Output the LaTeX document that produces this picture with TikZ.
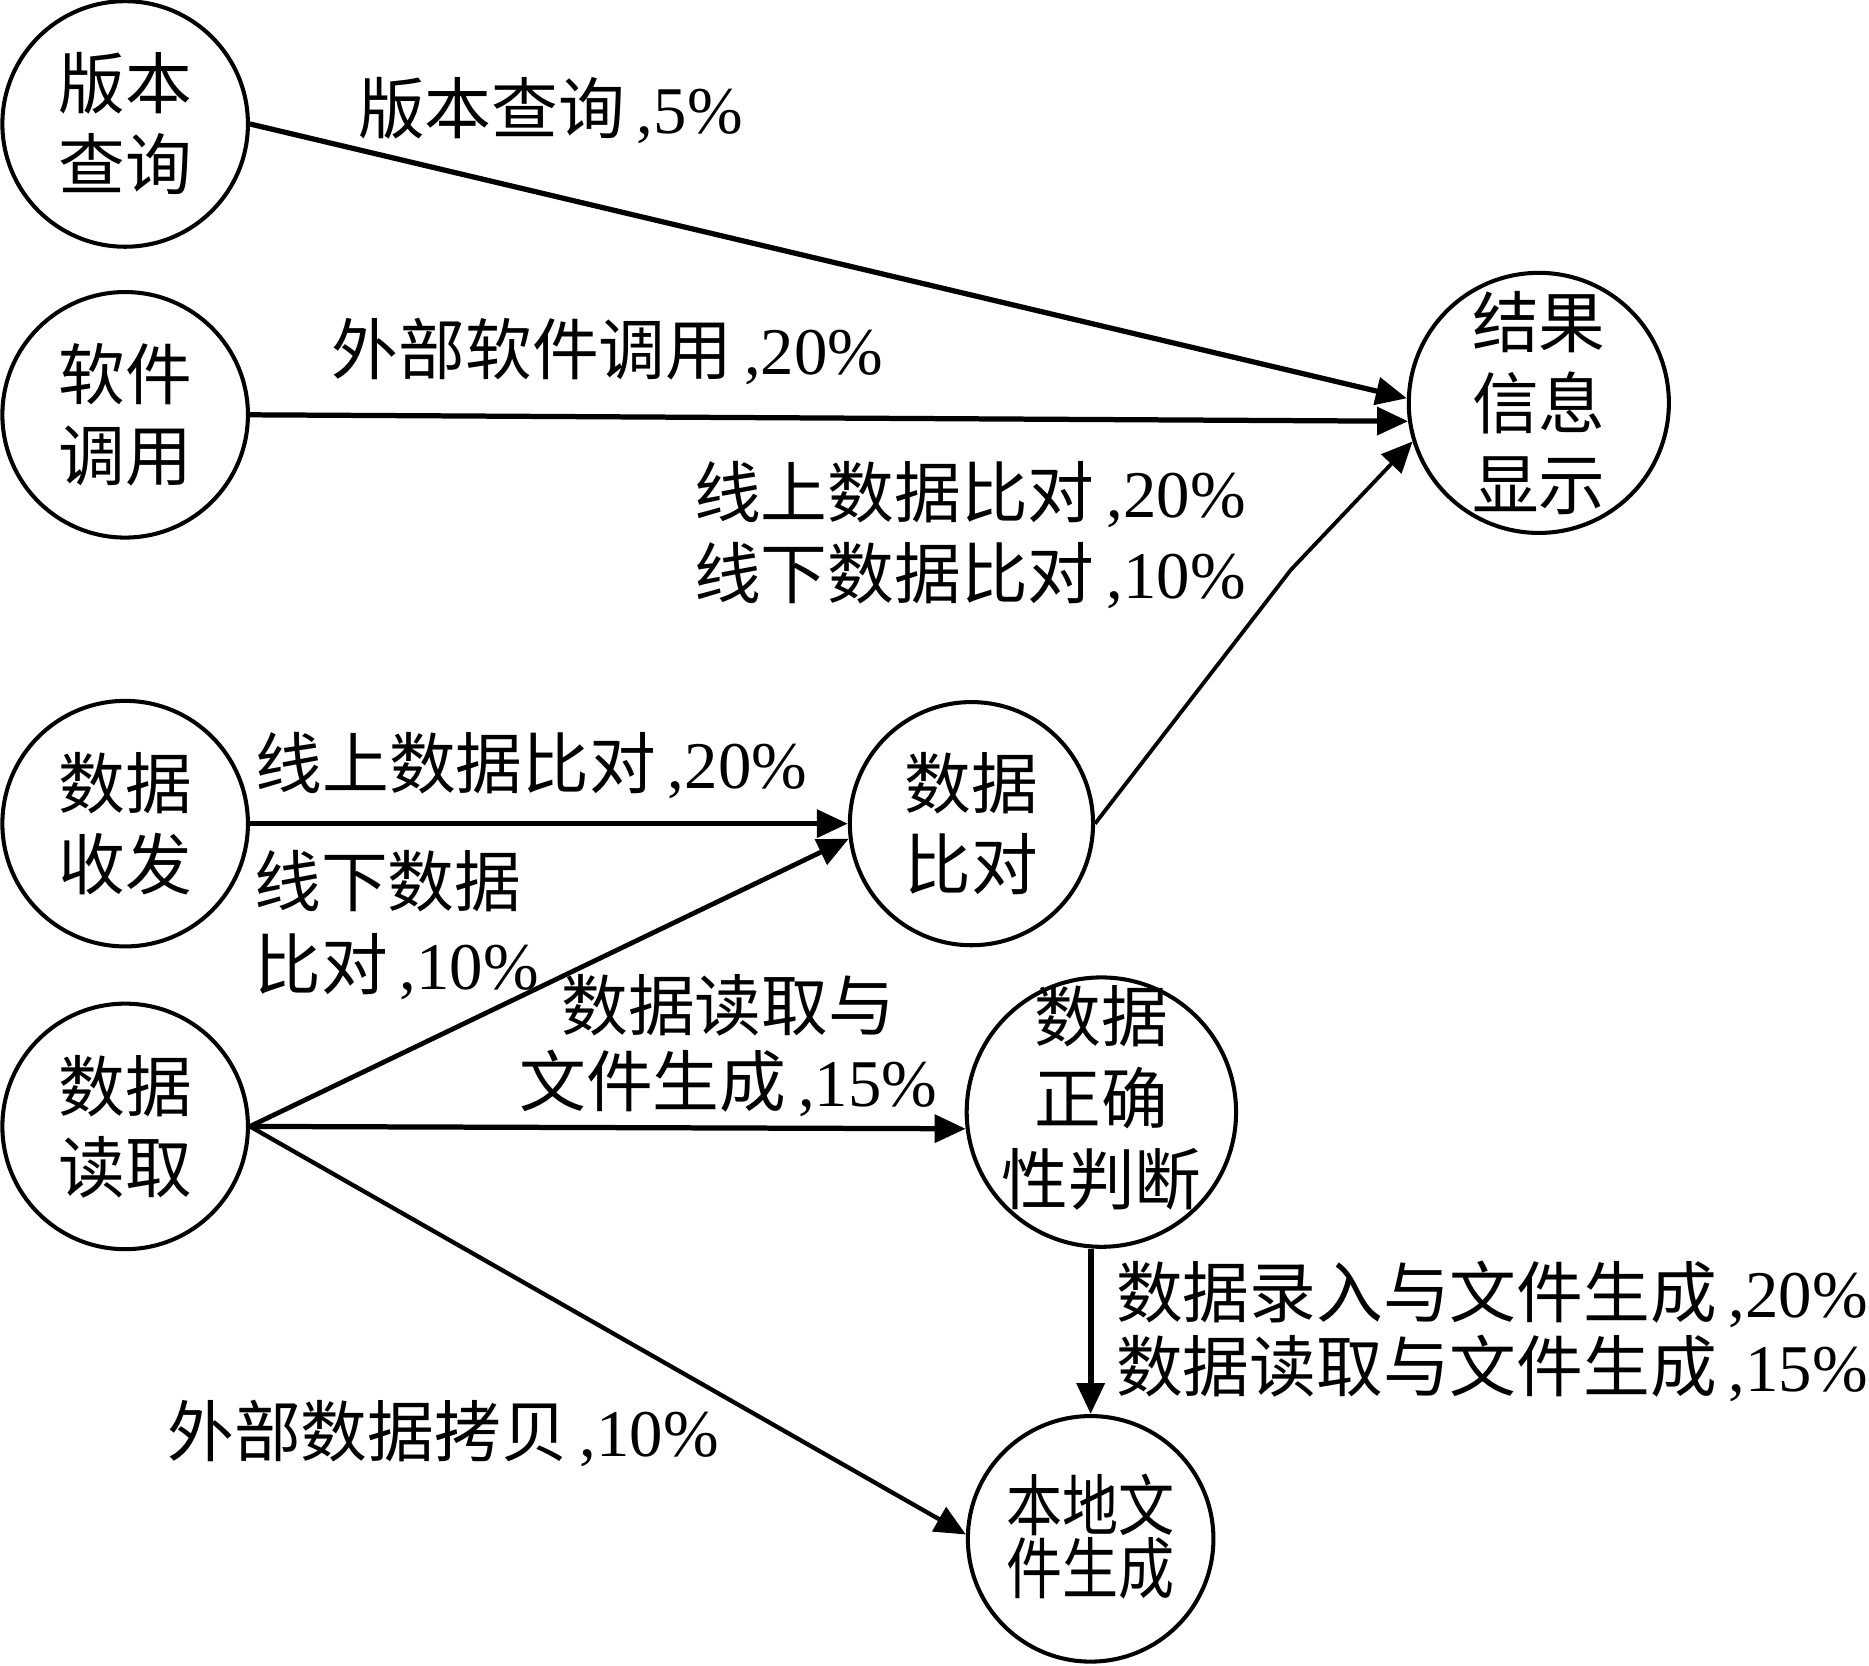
\documentclass[tikz,border=0pt]{standalone}
\usepackage{fontspec}
\setmainfont{Liberation Serif}
\newfontfamily\cjk{Noto Sans CJK SC}
\usepackage{graphicx}
\usetikzlibrary{arrows.meta}
\newcommand{\zh}[1]{{\cjk #1}}
\newcommand{\zhcomma}{\kern5pt,}
\begin{document}
\begin{tikzpicture}[x=0.5pt,y=-0.5pt,
  circ/.style={circle,draw,line width=1.7pt,minimum size=#1,inner sep=0pt,align=center,font=\fontsize{28}{34}\selectfont},
  lbl/.style={inner sep=0pt,font=\fontsize{28}{34}\selectfont},
  arr/.style={-{Triangle[length=13pt,width=11.5pt]},line width=#1}]
\useasboundingbox (0,0) rectangle (1568,1397);
% nodes
\node[circ=103pt] (A) at (105,104) {\zh{版本}\\\zh{查询}};
\node[circ=103pt] (B) at (105,348) {\zh{软件}\\\zh{调用}};
\node[circ=103pt] (C) at (105,691) {\zh{数据}\\\zh{收发}};
\node[circ=103pt] (D) at (105,945) {\zh{数据}\\\zh{读取}};
\node[circ=102pt] (E) at (1291,338) {\zh{结果}\\\zh{信息}\\\zh{显示}};
\node[circ=102pt] (F) at (815,691) {\zh{数据}\\\zh{比对}};
\node[circ=113pt] (G) at (924,933) {};
\node[lbl,align=center] (Gt) at (924,921) {\zh{数据}\\\zh{正确}\\\zh{性判断}};
\node[circ=103pt] (H) at (915,1291) {};
\node[lbl,align=center,font=\fontsize{28}{26.5}\selectfont] (Ht) at (915,1289) {\scalebox{0.84}[1]{\zh{本地文}}\\\scalebox{0.84}[1]{\zh{件生成}}};
% connectors
\coordinate (fb) at (1083,478);
\draw[arr=2.2pt] (A.east) -- (E.178);
\draw[arr=2.2pt] (B.east) -- (E.188);
\draw[arr=1.6pt] (F.east) -- (fb) -- (E.197);
\draw[arr=2.2pt] (C.east) -- (F.west);
\draw[arr=2pt] (D.east) -- (F.187);
\draw[arr=2.2pt] (D.east) -- (G.187);
\draw[arr=1.8pt] (D.east) -- (H.178);
\draw[arr=2.4pt] (H.north |- G.south) -- (H.north);
% labels
\node[lbl,anchor=west] (l1) at (300,93) {\zh{版本查询}\zhcomma5\%};
\node[lbl,anchor=west] (l2) at (278,295) {\zh{外部软件调用}\zhcomma20\%};
\node[lbl,anchor=west,align=left] (l3) at (582,449) {\zh{线上数据比对}\zhcomma20\%\\\zh{线下数据比对}\zhcomma10\%};
\node[lbl,anchor=west] (l4) at (214,642) {\zh{线上数据比对}\zhcomma20\%};
\node[lbl,anchor=west,align=left,font=\fontsize{28}{35}\selectfont] (l5) at (213,776) {\zh{线下数据}\\\zh{比对}\zhcomma10\%};
\node[lbl,align=center,font=\fontsize{28}{32}\selectfont] (l6) at (611,877) {\zh{数据读取与}\\\zh{文件生成}\zhcomma15\%};
\node[lbl,anchor=west,align=left,font=\fontsize{28}{31}\selectfont] (l7) at (936,1117) {\zh{数据录入与文件生成}\zhcomma20\%\\\zh{数据读取与文件生成}\zhcomma15\%};
\node[lbl,anchor=west] (l8) at (140,1203) {\zh{外部数据拷贝}\zhcomma10\%};
\end{tikzpicture}
\end{document}
